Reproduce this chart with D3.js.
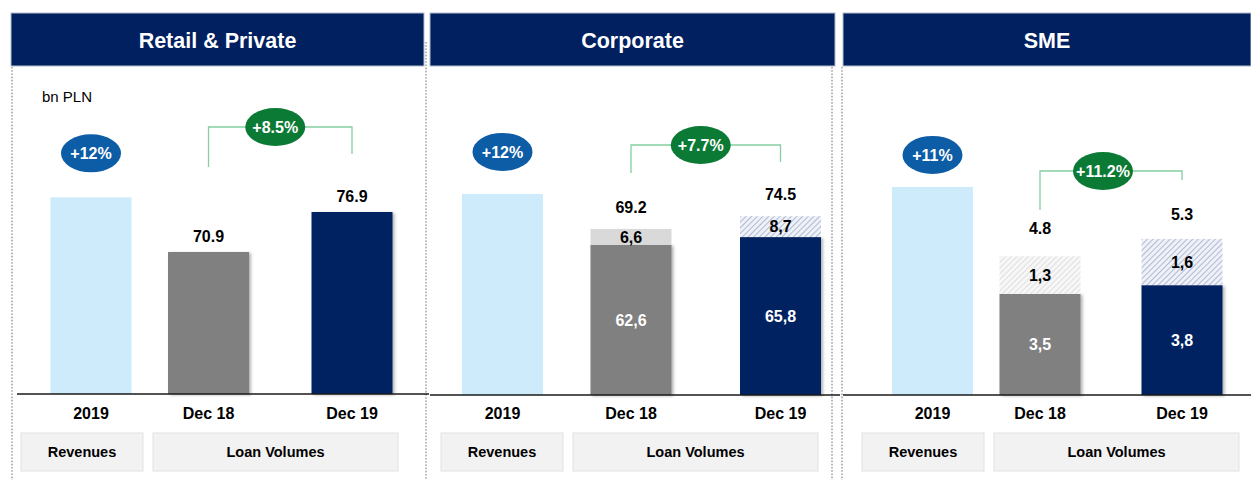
<!DOCTYPE html>
<html>
<head>
<meta charset="utf-8">
<script src="https://cdn.jsdelivr.net/npm/d3@7"></script>
<style>
  body { margin: 0; background: #fff; }
  svg { display: block; font-family: "Liberation Sans", Arial, sans-serif; }
</style>
</head>
<body>
<svg id="chart"></svg>
<script>
const width = 1251;
const height = 480;

// DATA
const panels = ['Retail & Private', 'Corporate', 'SME'];
const categories = ['2019', 'Dec 18', 'Dec 19'];
const revenueGrowth = ['+12%', '+12%', '+11%'];
const loanGrowth = ['+8.5%', '+7.7%', '+11.2%'];
// revenue bar has no printed value: height estimated in each panel's units
const revenueLevel = [79.1, 83.8, 7.2];
const loanTotals = [[70.9, 76.9], [69.2, 74.5], [4.8, 5.3]];
const loanBase = [[null, null], [62.6, 65.8], [3.5, 3.8]];
const loanOther = [[null, null], [6.6, 8.7], [1.3, 1.6]];
const boxLabels = ['Revenues', 'Loan Volumes'];

// LAYOUT
const panelX = [[11, 424], [430, 835], [843, 1251]];
const yDomains = [[49.6, 94.6], [0, 125], [0, 10.38]];
const baselines = [394, 395, 395];
const barCenters = [[91, 208.5, 352], [502.5, 631, 780.5], [932.5, 1040, 1182]];
const revBox = [[21, 143], [441, 563], [862, 984]];
const loanBox = [[153, 398], [573, 818], [994, 1239]];
const bracketY = [127, 145, 171];
const bracketLegs = [[167, 154], [173, 162], [210, 180]];
const bubbleLift = [44, 42, 32];
const labelGap = [10, 16, 22];
const barW = 81;

const navy = '#002060';
const gray = '#808080';
const lightBlue = '#cdebfb';
const bubbleBlue = '#0d5ca6';
const bubbleGreen = '#0b7a35';
const bracketColor = '#82cfa0';

const fmtComma = v => String(v).replace('.', ',');

const svg = d3.select('#chart')
    .attr('width', width)
    .attr('height', height);

//DEFS
const defs = svg.append('defs');
const shadow = defs.append('filter').attr('id', 'shadow')
    .attr('x', '-10%').attr('y', '-10%').attr('width', '130%').attr('height', '130%');
shadow.append('feDropShadow')
    .attr('dx', 2).attr('dy', 1).attr('stdDeviation', 1.5)
    .attr('flood-color', '#000').attr('flood-opacity', 0.3);

function hatch(id, bg, line) {
    const p = defs.append('pattern').attr('id', id)
        .attr('patternUnits', 'userSpaceOnUse')
        .attr('width', 4).attr('height', 4)
        .attr('patternTransform', 'rotate(45)');
    p.append('rect').attr('width', 4).attr('height', 4).attr('fill', bg);
    p.append('line').attr('x1', 0).attr('y1', 0).attr('x2', 0).attr('y2', 4)
        .attr('stroke', line).attr('stroke-width', 1.3);
}
hatch('hatchGray', '#f7f7f7', '#d2d2d2');
hatch('hatchBlue', '#eef1f7', '#8e9cc0');

// cap fills per panel: [Dec 18, Dec 19]
const capFills = [[null, null], ['#d9d9d9', 'url(#hatchBlue)'], ['url(#hatchGray)', 'url(#hatchBlue)']];

//DOTTED PANEL SEPARATORS
const sepLines = [[12, 67], [426, 42], [832, 67], [842, 67]];
svg.selectAll('line.sep')
    .data(sepLines)
    .enter()
    .append('line')
        .attr('class', 'sep')
        .attr('x1', d => d[0]).attr('x2', d => d[0])
        .attr('y1', d => d[1]).attr('y2', height)
        .attr('stroke', '#a6a6a6')
        .attr('stroke-width', 1.6)
        .attr('stroke-dasharray', '1.6,1.6');

panels.forEach((name, i) => {
    const g = svg.append('g');
    const [x0, x1] = panelX[i];

    // SCALES
    const xScale = d3.scaleOrdinal()
        .domain(categories)
        .range(barCenters[i]);
    const yScale = d3.scaleLinear()
        .domain(yDomains[i])
        .range([baselines[i], baselines[i] - 300]);
    const y0 = yScale.range()[0];

    // HEADER
    g.append('rect')
        .attr('x', x0).attr('y', 13)
        .attr('width', x1 - x0).attr('height', 53)
        .attr('fill', navy)
        .attr('stroke', '#b4bccc').attr('stroke-width', 1);
    g.append('text')
        .attr('x', (x0 + x1) / 2).attr('y', 48)
        .attr('text-anchor', 'middle')
        .attr('fill', '#fff')
        .style('font-size', '21.5px').style('font-weight', 'bold')
        .text(name);

    if (i === 0) {
        g.append('text')
            .attr('x', 42).attr('y', 102)
            .style('font-size', '15px')
            .text('bn PLN');
    }

    // REVENUE BAR
    const revTop = yScale(revenueLevel[i]);
    g.append('rect')
        .attr('x', xScale(categories[0]) - barW / 2)
        .attr('y', revTop)
        .attr('width', barW)
        .attr('height', y0 - revTop)
        .attr('fill', lightBlue);

    g.append('ellipse')
        .attr('cx', xScale(categories[0]))
        .attr('cy', revTop - bubbleLift[i])
        .attr('rx', 30).attr('ry', 19)
        .attr('fill', bubbleBlue);
    g.append('text')
        .attr('x', xScale(categories[0]))
        .attr('y', revTop - bubbleLift[i])
        .attr('dy', '0.36em')
        .attr('text-anchor', 'middle')
        .attr('fill', '#fff')
        .style('font-size', '16px').style('font-weight', 'bold')
        .text(revenueGrowth[i]);

    // LOAN BARS
    const loans = categories.slice(1).map((c, j) => ({
        cat: c,
        j: j,
        total: loanTotals[i][j],
        base: loanBase[i][j] === null ? loanTotals[i][j] : loanBase[i][j],
        other: loanOther[i][j],
        color: j === 0 ? gray : navy
    }));

    g.selectAll('rect.base')
        .data(loans)
        .enter()
        .append('rect')
            .attr('class', 'base')
            .attr('x', d => xScale(d.cat) - barW / 2)
            .attr('y', d => yScale(d.base))
            .attr('width', barW)
            .attr('height', d => y0 - yScale(d.base))
            .attr('fill', d => d.color)
            .attr('filter', 'url(#shadow)');

    const stacked = loans.filter(d => d.other !== null);
    g.selectAll('rect.cap')
        .data(stacked)
        .enter()
        .append('rect')
            .attr('class', 'cap')
            .attr('x', d => xScale(d.cat) - barW / 2)
            .attr('y', d => yScale(d.base + d.other))
            .attr('width', barW)
            .attr('height', d => yScale(d.base) - yScale(d.base + d.other))
            .attr('fill', d => capFills[i][d.j]);

    g.selectAll('text.cap')
        .data(stacked)
        .enter()
        .append('text')
            .attr('class', 'cap')
            .attr('x', d => xScale(d.cat))
            .attr('y', d => (yScale(d.base) + yScale(d.base + d.other)) / 2)
            .attr('dy', '0.36em')
            .attr('text-anchor', 'middle')
            .style('font-size', '16px').style('font-weight', 'bold')
            .text(d => fmtComma(d.other));

    g.selectAll('text.base')
        .data(stacked)
        .enter()
        .append('text')
            .attr('class', 'base')
            .attr('x', d => xScale(d.cat))
            .attr('y', d => (y0 + yScale(d.base)) / 2)
            .attr('dy', '0.36em')
            .attr('text-anchor', 'middle')
            .attr('fill', '#fff')
            .style('font-size', '16px').style('font-weight', 'bold')
            .text(d => fmtComma(d.base));

    g.selectAll('text.total')
        .data(loans)
        .enter()
        .append('text')
            .attr('class', 'total')
            .attr('x', d => xScale(d.cat))
            .attr('y', d => yScale(d.total) - labelGap[i])
            .attr('text-anchor', 'middle')
            .style('font-size', '16px').style('font-weight', 'bold')
            .text(d => d.total.toFixed(1));

    // GROWTH BRACKET
    const by = bracketY[i];
    const legEnds = bracketLegs[i];
    const xl = xScale(categories[1]), xr = xScale(categories[2]);
    g.append('path')
        .attr('d', `M${xl},${legEnds[0]}V${by}H${xr}V${legEnds[1]}`)
        .attr('fill', 'none')
        .attr('stroke', bracketColor)
        .attr('stroke-width', 1.3);
    const bx = (xl + xr) / 2 + (i === 2 ? -8 : -5);
    g.append('ellipse')
        .attr('cx', bx).attr('cy', by)
        .attr('rx', 30).attr('ry', 19)
        .attr('fill', bubbleGreen);
    g.append('text')
        .attr('x', bx).attr('y', by)
        .attr('dy', '0.36em')
        .attr('text-anchor', 'middle')
        .attr('fill', '#fff')
        .style('font-size', '16px').style('font-weight', 'bold')
        .text(loanGrowth[i]);

    // BASELINE
    g.append('line')
        .attr('x1', i === 0 ? 17 : x0).attr('x2', i === 2 ? width : x1 + 5)
        .attr('y1', baselines[i]).attr('y2', baselines[i])
        .attr('stroke', '#1a1a1a').attr('stroke-width', 1.6);

    // CATEGORY LABELS
    g.selectAll('text.cat')
        .data(categories)
        .enter()
        .append('text')
            .attr('class', 'cat')
            .attr('x', d => xScale(d))
            .attr('y', 419)
            .attr('text-anchor', 'middle')
            .style('font-size', '16px').style('font-weight', 'bold')
            .text(d => d);

    // BOTTOM BOXES
    const boxes = [revBox[i], loanBox[i]];
    g.selectAll('rect.box')
        .data(boxes)
        .enter()
        .append('rect')
            .attr('class', 'box')
            .attr('x', d => d[0]).attr('y', 433)
            .attr('width', d => d[1] - d[0]).attr('height', 38)
            .attr('fill', '#f2f2f2')
            .attr('stroke', '#e2e2e2');
    g.selectAll('text.box')
        .data(boxes)
        .enter()
        .append('text')
            .attr('class', 'box')
            .attr('x', d => (d[0] + d[1]) / 2).attr('y', 457)
            .attr('text-anchor', 'middle')
            .style('font-size', '14.5px').style('font-weight', 'bold')
            .text((d, k) => boxLabels[k]);
});
</script>
</body>
</html>
